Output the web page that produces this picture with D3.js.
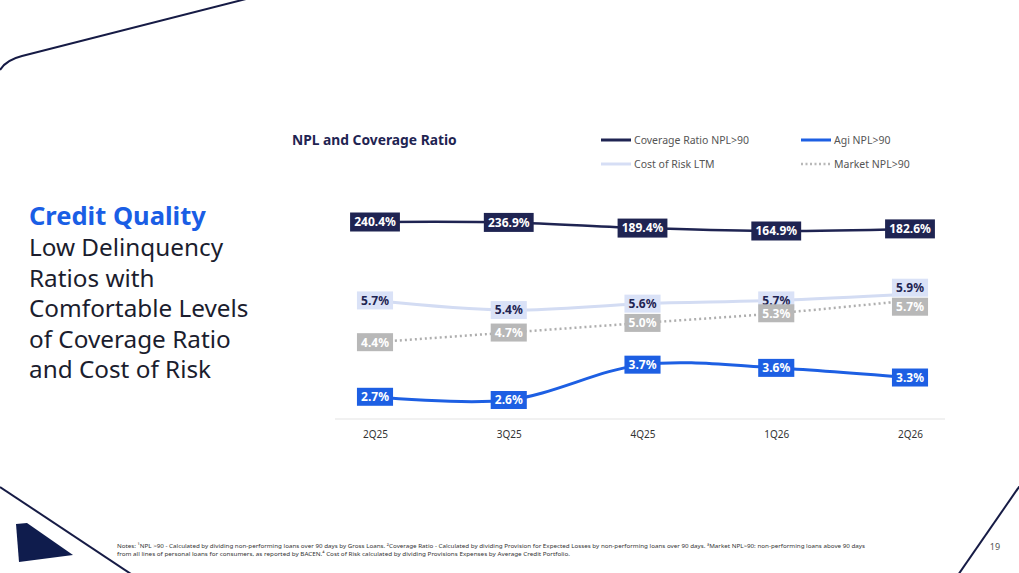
<!DOCTYPE html>
<html><head><meta charset="utf-8">
<script src="https://cdn.jsdelivr.net/npm/d3@7/dist/d3.min.js"></script>
<style>
html,body{margin:0;padding:0;background:#fff;}
svg{display:block;font-family:"Noto Sans","Open Sans",sans-serif;}
</style></head>
<body>
<svg id="c" width="1019" height="573"></svg>
<script>
const categories = ["2Q25","3Q25","4Q25","1Q26","2Q26"];
const coverageRatio = [240.4, 236.9, 189.4, 164.9, 182.6];
const costOfRisk = [5.7, 5.4, 5.6, 5.7, 5.9];
const marketNPL = [4.4, 4.7, 5.0, 5.3, 5.7];
const agiNPL = [2.7, 2.6, 3.7, 3.6, 3.3];
const legendLabels = ["Coverage Ratio NPL>90","Agi NPL>90","Cost of Risk LTM","Market NPL>90"];

const NAVY = "#1f2452", BLUE = "#1d5fe3", LIGHT = "#d6def5", GREY = "#b8b8b8";
const svg = d3.select("#c");

// decorations
svg.append("path").attr("d","M0,70 Q6,60 22,56 L246,-1").attr("fill","none").attr("stroke","#161b45").attr("stroke-width",2);
svg.append("path").attr("d","M0,487 L131,574").attr("stroke","#161b45").attr("stroke-width",2);
svg.append("path").attr("d","M16,524 L27,523 L73,555 L19,562 Z").attr("fill","#0f1c4d");
svg.append("path").attr("d","M1021,484 L958,575").attr("stroke","#161b45").attr("stroke-width",2);
svg.append("text").attr("x",995).attr("y",550).attr("font-size",9).attr("fill","#555").attr("text-anchor","middle").text("19");

// left heading
svg.append("text").attr("x",29).attr("y",225).attr("font-size",25.5).attr("font-weight",700).attr("fill","#1a5ee5").text("Credit Quality");
["Low Delinquency","Ratios with","Comfortable Levels","of Coverage Ratio","and Cost of Risk"].forEach((t,i)=>{
  svg.append("text").attr("x",29).attr("y",256+i*30.5).attr("font-size",24.3).attr("fill","#1b1d2e").text(t);
});

// chart title & legend
svg.append("text").attr("x",292).attr("y",145).attr("font-size",13.8).attr("font-weight",700).attr("fill",NAVY).text("NPL and Coverage Ratio");
const legendStyles = [
  {c:NAVY,w:3,d:null,x:601,y:140},
  {c:BLUE,w:3,d:null,x:801,y:140},
  {c:LIGHT,w:3,d:null,x:601,y:164},
  {c:GREY,w:2.5,d:"2,2.5",x:801,y:164}
];
legendLabels.forEach((t,i)=>{
  const s = legendStyles[i];
  svg.append("line").attr("x1",s.x).attr("x2",s.x+30).attr("y1",s.y).attr("y2",s.y)
    .attr("stroke",s.c).attr("stroke-width",s.w).attr("stroke-dasharray",s.d);
  svg.append("text").attr("x",s.x+33).attr("y",s.y+4).attr("font-size",10.5).attr("fill","#555").text(t);
});

// scales
const x = d3.scalePoint().domain(categories).range([375, 910]);
const yCov = d3.scaleLinear().domain([164.9, 240.4]).range([231, 222]);
const yPct = d3.scaleLinear().domain([2.6, 5.9]).range([400, 294]);

// axis
const axisG = svg.append("g").attr("transform","translate(0,419)");
axisG.append("line").attr("x1",335).attr("x2",945).attr("stroke","#ececec").attr("stroke-width",1.5);
const ax = d3.axisBottom(x).tickSize(0).tickPadding(12);
const axG = svg.append("g").attr("transform","translate(0,419)").call(ax);
axG.select(".domain").remove();
axG.selectAll("text").attr("font-size",10).attr("fill","#333").attr("font-family","'Noto Sans',sans-serif");

const curve = d3.curveCatmullRom.alpha(0.5);
function drawLine(vals, yS, color, w, dash){
  svg.append("path").datum(vals)
    .attr("d", d3.line().x((d,i)=>x(categories[i])).y(d=>yS(d)).curve(curve))
    .attr("fill","none").attr("stroke",color).attr("stroke-width",w)
    .attr("stroke-dasharray",dash).attr("stroke-linecap", dash ? "butt" : "round");
}
drawLine(coverageRatio, yCov, NAVY, 2.5, null);
drawLine(costOfRisk, yPct, "#d3dcf3", 3, null);
drawLine(marketNPL, yPct, "#aeaeae", 2.5, "2,3");
drawLine(agiNPL, yPct, BLUE, 3, null);

// label positions with simple collision avoidance between Cost of Risk and Market
const corY = costOfRisk.map(v=>yPct(v));
const mktY = marketNPL.map(v=>yPct(v));
corY.forEach((cy,i)=>{
  const my = mktY[i];
  if (Math.abs(my-cy) < 10) {
    const mid = (my+cy)/2;
    corY[i] = mid-9.5; mktY[i] = mid+9.5;
  }
});

function drawLabels(vals, ys, bg, fg, h){
  vals.forEach((v,i)=>{
    const g = svg.append("g").attr("transform",`translate(${x(categories[i])},${ys[i]})`);
    const r = g.append("rect").attr("fill",bg);
    const t = g.append("text").attr("text-anchor","middle").attr("dy","0.36em")
      .attr("font-size",12).attr("font-weight",700).attr("fill",fg).text(v.toFixed(1)+"%");
    const bb = t.node().getBBox();
    const w = bb.width + 8;
    r.attr("x",-w/2).attr("y",-h/2).attr("width",w).attr("height",h);
  });
}
drawLabels(coverageRatio, coverageRatio.map(v=>yCov(v)), NAVY, "#fff", 19);
drawLabels(costOfRisk, corY, "#dae2f7", NAVY, 18);
drawLabels(marketNPL, mktY, GREY, "#fff", 18);
drawLabels(agiNPL, agiNPL.map(v=>yPct(v)), BLUE, "#fff", 18);

// notes
const n1 = "Notes: \u00B9NPL >90 - Calculated by dividing non-performing loans over 90 days by Gross Loans. \u00B2Coverage Ratio - Calculated by dividing Provision for Expected Losses by non-performing loans over 90 days. \u00B3Market NPL>90: non-performing loans above 90 days";
const n2 = "from all lines of personal loans for consumers, as reported by BACEN.\u2074 Cost of Risk calculated by dividing Provisions Expenses by Average Credit Portfolio.";
svg.append("text").attr("x",117).attr("y",548).attr("font-size",6).attr("fill","#333")
  .attr("textLength",748).attr("lengthAdjust","spacingAndGlyphs").text(n1);
svg.append("text").attr("x",117).attr("y",555.5).attr("font-size",6).attr("fill","#333")
  .attr("textLength",453).attr("lengthAdjust","spacingAndGlyphs").text(n2);
</script>
</body></html>
